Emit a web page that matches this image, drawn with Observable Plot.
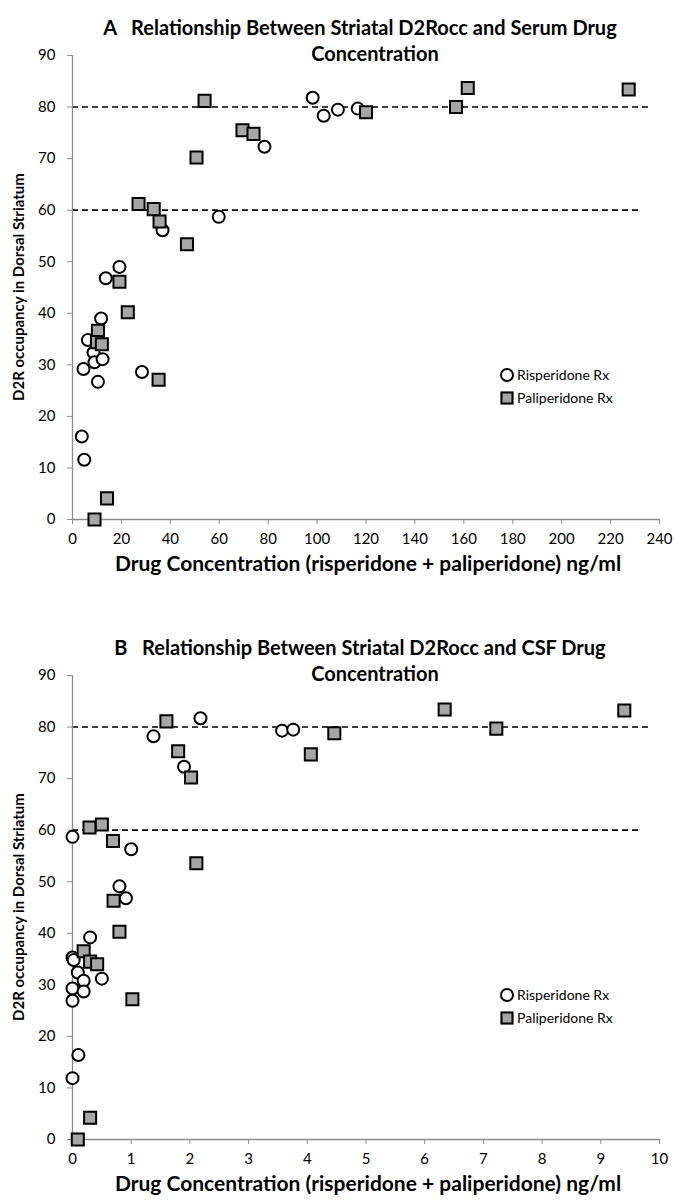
<!DOCTYPE html>
<html><head><meta charset="utf-8">
<script src="https://cdn.jsdelivr.net/npm/d3@7"></script>
<script src="https://cdn.jsdelivr.net/npm/@observablehq/plot@0.6"></script>
<style>
body{margin:0;background:#fff;font-family:Lato,"Open Sans",sans-serif;}
#wrap{position:relative;width:675px;height:1204px;overflow:hidden;background:#fff}
.svgbox{position:absolute;left:0;width:675px;height:584px}
.t{position:absolute;white-space:pre;color:#000;transform:translate(-50%,-50%);line-height:1}
.b{font-weight:bold}
.rot{transform:translate(-50%,-50%) rotate(-90deg)}
.leg{position:absolute;white-space:pre;font-size:14px;color:#000;line-height:1;transform:translateY(-50%)}
.sym{position:absolute;box-sizing:border-box;border:2px solid #000;transform:translate(-50%,-50%)}
</style></head>
<body><div id="wrap"></div>
<script>
// ---------- data ----------
const seriesNames = ["Risperidone Rx", "Paliperidone Rx"];
const titlesA = ["A   Relationship Between Striatal D2Rocc and Serum Drug", "Concentration"];
const titlesB = ["B   Relationship Between Striatal D2Rocc and CSF Drug", "Concentration"];
const yTitle = "D2R occupancy in Dorsal Striatum";
const xTitle = "Drug Concentration (risperidone + paliperidone) ng/ml";
const yTicks = [0, 10, 20, 30, 40, 50, 60, 70, 80, 90];
const xTicksA = [0, 20, 40, 60, 80, 100, 120, 140, 160, 180, 200, 220, 240];
const xTicksB = [0, 1, 2, 3, 4, 5, 6, 7, 8, 9, 10];
const refLevels = [80, 60];
const refEndA = [235.5, 233];
const refEndB = [9.85, 9.7];

// Panel A: serum concentration
const rispSerumX = [3.8, 4.8, 4.5, 6.3, 8.6, 9.0, 12.3, 10.4, 11.7, 13.6, 19.2, 28.4, 36.8, 59.8, 78.5, 98.2, 102.7, 108.5, 116.6];
const rispSerumY = [16.1, 11.6, 29.2, 34.8, 32.4, 30.5, 31.1, 26.7, 39.0, 46.8, 49.0, 28.6, 56.1, 58.7, 72.3, 81.8, 78.3, 79.5, 79.7];
const paliSerumX = [27.0, 33.2, 35.6, 46.8, 19.2, 22.6, 10.4, 10.0, 12.0, 35.2, 14.1, 9.0, 50.7, 54.0, 69.5, 74.0, 120.0, 156.8, 161.6, 227.4];
const paliSerumY = [61.2, 60.2, 57.8, 53.4, 46.1, 40.2, 36.6, 34.4, 34.0, 27.1, 4.1, 0, 70.2, 81.2, 75.5, 74.8, 79.0, 80.0, 83.7, 83.4];

// Panel B: CSF concentration
const rispCsfX = [0, 1.0, 0.8, 0.91, 0.30, 0, 0.02, 0.09, 0.19, 0.5, 0, 0.19, 0, 0.1, 0, 1.38, 1.9, 2.18, 3.57, 3.76];
const rispCsfY = [58.7, 56.3, 49.1, 46.8, 39.2, 35.3, 34.8, 32.4, 30.8, 31.2, 29.3, 28.7, 26.9, 16.4, 11.9, 78.2, 72.3, 81.7, 79.3, 79.5];
const paliCsfX = [0.29, 0.5, 0.69, 0.70, 0.8, 0.19, 0.3, 0.42, 1.02, 0.3, 0.09, 1.6, 1.8, 2.02, 2.11, 4.06, 4.46, 6.34, 7.22, 9.40];
const paliCsfY = [60.5, 61.1, 57.9, 46.3, 40.3, 36.5, 34.5, 34.0, 27.2, 4.2, 0, 81.1, 75.3, 70.2, 53.6, 74.7, 78.8, 83.4, 79.7, 83.2];

// ---------- drawing ----------
const zip = (xs, ys) => xs.map((x, i) => ({x, y: ys[i]}));
const AXIS = "#8c8c8c";

function makePlot(xDomain, xTicks, refEnd, risp, pali) {
  const refs = refLevels.map((v, i) => ({y: v, x1: xDomain[0], x2: refEnd[i]}));
  return Plot.plot({
    width: 675, height: 584,
    marginTop: 55, marginBottom: 65, marginLeft: 72, marginRight: 16,
    style: {fontFamily: "Lato, sans-serif", fontSize: "15px", background: "transparent", overflow: "visible", color: "#000"},
    x: {domain: xDomain},
    y: {domain: [0, 90]},
    marks: [
      Plot.ruleY(refs, {y: "y", x1: "x1", x2: "x2", stroke: "#000", strokeWidth: 1.6, strokeDasharray: "6,4"}),
      Plot.ruleX([xDomain[0]], {stroke: AXIS, strokeWidth: 1.3}),
      Plot.ruleY([0], {stroke: AXIS, strokeWidth: 1.3}),
      Plot.axisX({ticks: xTicks, tickSize: 5, tickPadding: 9, stroke: AXIS, fill: "#000", fontSize: 15, label: null}),
      Plot.axisY({ticks: yTicks, tickSize: 5, tickPadding: 12, stroke: AXIS, fill: "#000", fontSize: 15, label: null}),
      Plot.dot(risp, {x: "x", y: "y", r: 6, fill: "#fff", stroke: "#000", strokeWidth: 2}),
      Plot.dot(pali, {x: "x", y: "y", r: 6.8, symbol: "square", fill: "#a6a6a6", stroke: "#000", strokeWidth: 2})
    ]
  });
}

const wrap = document.getElementById("wrap");
function addText(txt, cls, x, y, size) {
  const d = document.createElement("div");
  d.className = cls;
  d.textContent = txt;
  d.style.left = x + "px"; d.style.top = y + "px"; d.style.fontSize = size + "px";
  wrap.appendChild(d);
}
function addPanel(top, titles, plot) {
  const box = document.createElement("div");
  box.className = "svgbox"; box.style.top = top + "px";
  box.appendChild(plot);
  wrap.appendChild(box);
  addText(titles[0], "t b", 360, top + 27, 20);
  addText(titles[1], "t b", 375, top + 53, 20);
  addText(yTitle, "t b rot", 18, top + 287, 15);
  addText(xTitle, "t b", 368, top + 562, 21);
  // legend
  const c = document.createElement("div");
  c.className = "sym";
  Object.assign(c.style, {left: "507px", top: (top + 375) + "px", width: "14px", height: "14px", borderRadius: "50%", background: "#fff"});
  wrap.appendChild(c);
  const s = document.createElement("div");
  s.className = "sym";
  Object.assign(s.style, {left: "507px", top: (top + 398) + "px", width: "13px", height: "13px", background: "#a6a6a6"});
  wrap.appendChild(s);
  const l1 = document.createElement("div"); l1.className = "leg"; l1.textContent = seriesNames[0];
  Object.assign(l1.style, {left: "517px", top: (top + 375) + "px"}); wrap.appendChild(l1);
  const l2 = document.createElement("div"); l2.className = "leg"; l2.textContent = seriesNames[1];
  Object.assign(l2.style, {left: "517px", top: (top + 398) + "px"}); wrap.appendChild(l2);
}

addPanel(0, titlesA, makePlot([0, 240], xTicksA, refEndA, zip(rispSerumX, rispSerumY), zip(paliSerumX, paliSerumY)));
addPanel(620, titlesB, makePlot([0, 10], xTicksB, refEndB, zip(rispCsfX, rispCsfY), zip(paliCsfX, paliCsfY)));
</script></body></html>
